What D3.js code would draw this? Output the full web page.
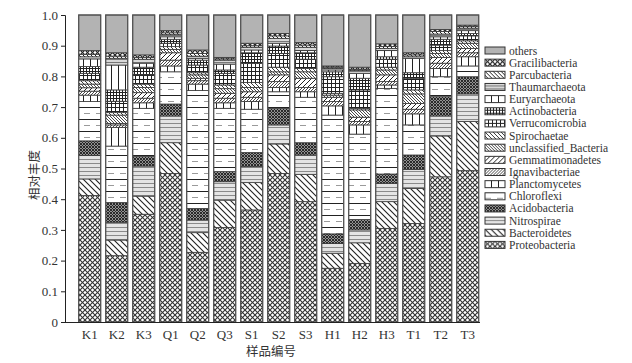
<!DOCTYPE html>
<html>
<head>
<meta charset="utf-8">
<script src="https://cdn.jsdelivr.net/npm/d3@7"></script>
<style>
  body { margin: 0; background: #fff; }
  svg text { font-family: "Liberation Serif", "Times New Roman", serif; fill: #333; }
  .cjk { font-family: "Noto Sans CJK SC", sans-serif; }
</style>
</head>
<body>
<div id="d3_div"></div>
<script>
// samples on the x axis
var samples = ["K1","K2","K3","Q1","Q2","Q3","S1","S2","S3","H1","H2","H3","T1","T2","T3"];

// relative abundance (%) per phylum, bottom of the stack first
var proteobacteria   = [41.2,21.6,35.1,48.4,22.7,30.8,36.5,48.4,39.2,17.5,19.1,30.5,32.1,47.3,49.3];
var bacteroidetes    = [5.4,5.1,5.9,10.0,6.4,8.9,8.9,9.6,8.9,4.9,6.7,8.7,11.4,13.3,16.0];
var nitrospirae      = [7.6,5.8,9.8,8.7,4.1,6.0,5.2,6.2,6.3,3.2,4.2,6.0,6.2,6.5,9.0];
var acidobacteria    = [4.8,6.4,3.1,3.9,3.8,3.3,4.6,5.4,4.0,3.1,3.4,3.0,4.7,6.3,5.6];
var chloroflexi      = [12.8,18.4,15.7,10.5,38.4,20.6,14.1,5.4,14.8,38.7,27.8,27.9,9.8,6.5,3.5];
var planctomycetes   = [2.1,6.1,1.8,1.9,2.1,1.8,2.5,1.4,1.8,3.0,3.0,1.1,3.6,2.7,3.0];
var ignavibacteriae  = [1.3,0.8,1.5,1.9,1.1,1.5,1.4,1.9,1.4,1.4,1.1,1.1,1.5,1.7,1.3];
var gemmatimonadetes = [1.1,0.5,1.8,2.4,0.8,1.6,1.8,2.2,3.0,1.4,1.4,2.2,1.9,1.9,1.4];
var unclassified     = [1.2,2.7,1.7,1.1,1.1,1.5,1.4,1.0,2.1,0.7,2.4,1.6,3.1,1.3,1.7];
var spirochaetae     = [1.1,0.8,1.1,0.9,0.7,1.2,1.6,1.5,1.1,0.6,0.5,0.9,1.3,0.9,0.8];
var verrucomicrobia  = [2.4,3.7,3.0,1.1,2.5,3.8,6.3,4.5,3.0,5.4,6.0,2.6,3.8,1.8,1.6];
var actinobacteria   = [2.2,3.7,2.5,1.3,1.6,1.1,3.4,2.4,2.1,1.6,3.8,0.8,1.8,1.9,0.8];
var euryarchaeota    = [2.5,8.1,1.3,0.8,0.6,1.9,0.9,0.9,0.7,0.6,1.6,2.0,4.7,0.8,0.9];
var thaumarchaeota   = [0.7,2.2,1.3,0.7,0.7,1.3,0.9,1.6,1.1,0.5,0.9,0.7,0.5,0.9,0.8];
var parcubacteria    = [0.8,0.7,0.6,0.6,0.9,0.4,0.5,0.8,0.7,0.4,0.4,0.6,0.6,0.8,0.5];
var gracilibacteria  = [1.2,1.1,0.8,0.7,1.1,0.5,0.8,0.8,0.8,0.4,0.7,0.9,0.7,0.7,0.5];
var others           = [11.6,12.3,13.0,5.1,11.4,13.8,9.2,6.0,9.0,16.6,17.0,9.4,12.3,4.7,3.3];

var phyla = ["Proteobacteria","Bacteroidetes","Nitrospirae","Acidobacteria","Chloroflexi",
  "Planctomycetes","Ignavibacteriae","Gemmatimonadetes","unclassified_Bacteria","Spirochaetae",
  "Verrucomicrobia","Actinobacteria","Euryarchaeota","Thaumarchaeota","Parcubacteria",
  "Gracilibacteria","others"];
var series = [proteobacteria,bacteroidetes,nitrospirae,acidobacteria,chloroflexi,
  planctomycetes,ignavibacteriae,gemmatimonadetes,unclassified,spirochaetae,
  verrucomicrobia,actinobacteria,euryarchaeota,thaumarchaeota,parcubacteria,
  gracilibacteria,others];

var yTicks = [0,0.1,0.2,0.3,0.4,0.5,0.6,0.7,0.8,0.9,1.0];

// one row per sample for d3.stack
var table = samples.map(function(s, i) {
  var row = {sample: s};
  phyla.forEach(function(p, j) { row[p] = series[j][i]; });
  return row;
});

var W = 632, H = 363;
var svg = d3.select("#d3_div").append("svg")
  .attr("width", W).attr("height", H);

// ---- fill patterns (black & white print style) ----
var defs = svg.append("defs");
function pat(id, s, bg, paths) {
  var p = defs.append("pattern").attr("id", id)
    .attr("patternUnits", "userSpaceOnUse")
    .attr("width", s).attr("height", s);
  p.append("rect").attr("width", s).attr("height", s).attr("fill", bg);
  paths.forEach(function(d) {
    p.append("path").attr("d", d[0]).attr("stroke", d[1]).attr("stroke-width", d[2])
      .attr("fill", "none").attr("shape-rendering", d[3] || "auto");
  });
}
function fw(s) { return "M0," + s + "L" + s + ",0M-1,1L1,-1M" + (s-1) + "," + (s+1) + "L" + (s+1) + "," + (s-1); }
function bk(s) { return "M0,0L" + s + "," + s + "M-1," + (s-1) + "L1," + (s+1) + "M" + (s-1) + ",-1L" + (s+1) + ",1"; }
function hz(s) { return "M0," + (s - 0.5) + "H" + s; }
function vt(s) { return "M" + (s - 0.5) + ",0V" + s; }

pat("p0", 5, "#fff", [[fw(5), "#333", 1.1], [bk(5), "#333", 1.1]]);
pat("p1", 6, "#fff", [[bk(6), "#222", 1.1]]);
pat("p2", 4, "#e4e4e4", [[hz(4), "#8a8a8a", 1, "crispEdges"]]);
pat("p3", 3, "#fff", [[fw(3), "#222", 1.1], [bk(3), "#222", 1.1]]);
pat("p4", 12, "#fff", [[hz(6), "#9a9a9a", 1, "crispEdges"], ["M0,11.5H12", "#222", 1, "crispEdges"]]);
pat("p5", 7, "#fff", [[vt(7), "#222", 1, "crispEdges"]]);
pat("p6", 3, "#fff", [[fw(3), "#333", 0.9]]);
pat("p7", 5, "#fff", [[fw(5), "#222", 1]]);
pat("p8", 3, "#fff", [[bk(3), "#333", 0.9]]);
pat("p9", 4, "#fff", [[bk(4), "#222", 0.9]]);
pat("p10", 4, "#fff", [[hz(4), "#222", 1, "crispEdges"], [vt(4), "#222", 1, "crispEdges"]]);
pat("p11", 3, "#fff", [[hz(3), "#222", 1, "crispEdges"], [vt(3), "#222", 1, "crispEdges"]]);
pat("p12", 7, "#fff", [[vt(7), "#222", 1, "crispEdges"]]);
pat("p13", 3, "#d8d8d8", [[hz(3), "#777", 1, "crispEdges"]]);
pat("p14", 4, "#fff", [[bk(4), "#222", 1]]);
pat("p15", 5, "#fff", [[fw(5), "#222", 1.2], [bk(5), "#222", 1.2]]);
pat("p16", 4, "#b3b3b3", []);

// ---- scales ----
var x = d3.scaleBand().domain(samples)
  .range([65, 492.4]).paddingInner(0.185).paddingOuter(0.507);
var y = d3.scaleLinear().domain([0, 1]).range([322, 15]);

var stack = d3.stack().keys(phyla).offset(d3.stackOffsetExpand);
var layers = stack(table);

// ---- bars ----
svg.append("g").selectAll("g")
  .data(layers).enter().append("g")
    .attr("fill", function(d, i) { return "url(#p" + i + ")"; })
  .selectAll("rect")
  .data(function(d) { return d; }).enter().append("rect")
    .attr("x", function(d) { return x(d.data.sample); })
    .attr("width", x.bandwidth())
    .attr("y", function(d) { return y(d[1]); })
    .attr("height", function(d) { return y(d[0]) - y(d[1]); })
    .attr("stroke", "#3a3a3a")
    .attr("stroke-width", 0.8);

// bar outlines
svg.append("g").selectAll("rect")
  .data(samples).enter().append("rect")
    .attr("x", function(d) { return x(d); })
    .attr("y", y(1))
    .attr("width", x.bandwidth())
    .attr("height", y(0) - y(1))
    .attr("fill", "none")
    .attr("stroke", "#555")
    .attr("stroke-width", 1.2);

// ---- axes ----
var yAxis = svg.append("g")
  .attr("transform", "translate(65,0)")
  .call(d3.axisLeft(y).tickValues(yTicks).tickSize(4).tickPadding(3)
    .tickFormat(function(d) { return d === 0 ? "0" : d3.format(".1f")(d); }));
yAxis.selectAll("text").style("font-size", "13px");
yAxis.selectAll("line, path").attr("stroke", "#222");

var xAxis = svg.append("g")
  .attr("transform", "translate(0,322)")
  .call(d3.axisBottom(x).tickSize(0).tickPadding(8));
xAxis.select(".domain").attr("d", "M65,0.5H480").attr("stroke", "#222");
xAxis.selectAll("text").style("font-size", "13px");

svg.append("text").attr("class", "cjk")
  .attr("x", 271).attr("y", 356)
  .attr("text-anchor", "middle")
  .style("font-size", "12.5px")
  .text("样品编号");

svg.append("text").attr("class", "cjk")
  .attr("transform", "translate(39,175) rotate(-90)")
  .attr("text-anchor", "middle")
  .style("font-size", "12.5px")
  .text("相对丰度");

// ---- legend, top entry is the top of the stack ----
var legend = svg.append("g").selectAll("g")
  .data(phyla.slice().reverse()).enter().append("g")
    .attr("transform", function(d, i) { return "translate(485," + (47 + i * 12.15) + ")"; });
legend.append("rect")
  .attr("width", 20).attr("height", 7)
  .attr("fill", function(d) { return "url(#p" + phyla.indexOf(d) + ")"; })
  .attr("stroke", "#333").attr("stroke-width", 1);
legend.append("text")
  .attr("x", 24).attr("y", 7.5)
  .style("font-size", "11.5px")
  .text(function(d) { return d; });
</script>
</body>
</html>
